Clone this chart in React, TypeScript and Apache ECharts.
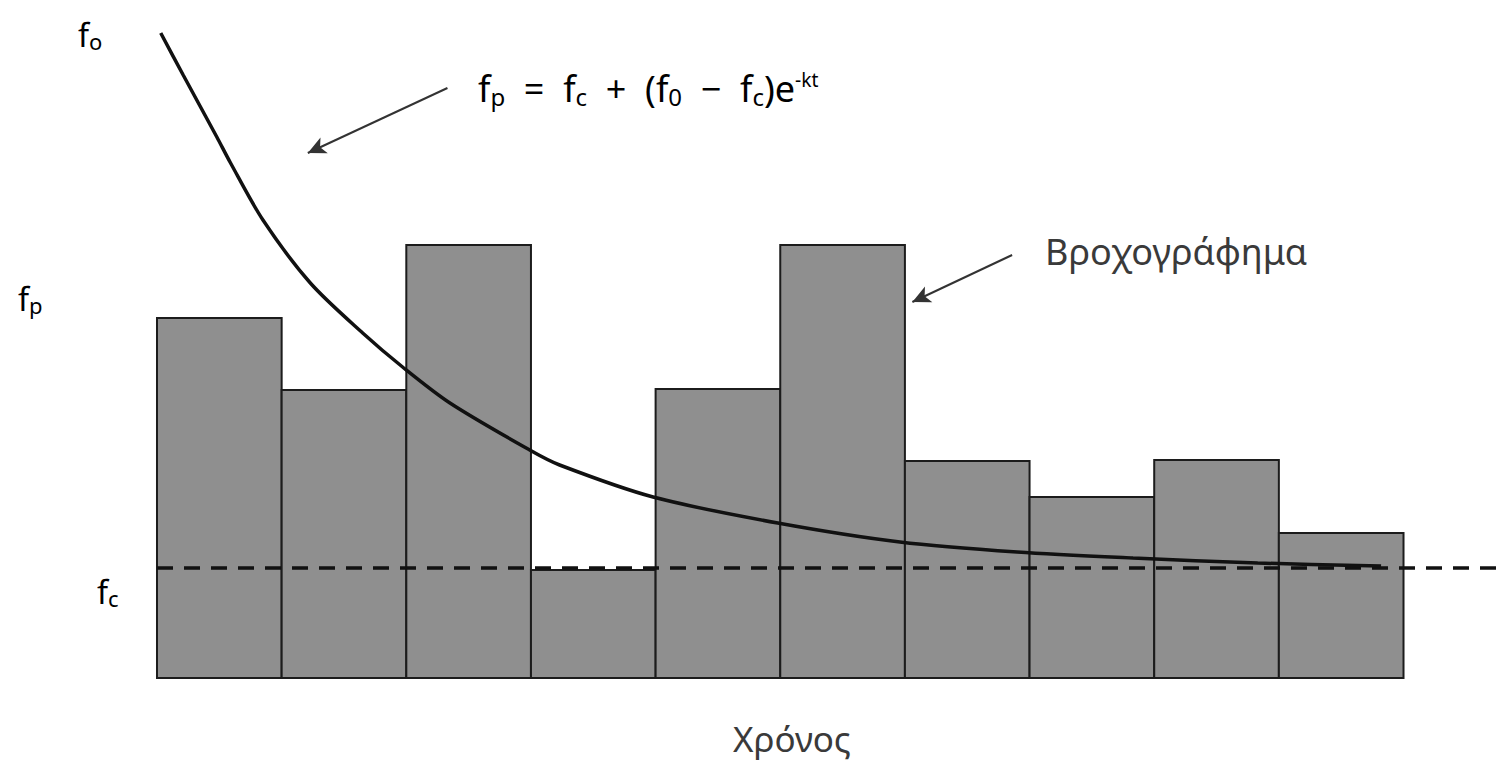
import React, { useEffect, useRef } from "react";
import * as echarts from "echarts";

// Bar heights (rainfall hyetograph), one per time interval
const barHeights = [36.0, 28.8, 43.3, 10.8, 28.9, 43.3, 21.7, 18.1, 21.8, 14.5];
// Infiltration curve fp(t), read point by point: [time, rate]
const curveT = [0.03, 0.21, 0.48, 0.59, 0.85, 1.23, 1.65, 1.97, 2.35, 2.99, 3.23, 3.98, 4.98, 5.96, 6.9, 7.83, 8.83, 9.82];
const curveF = [64.5, 60.3, 54.1, 51.5, 45.8, 39.5, 34.5, 31.1, 27.5, 22.8, 21.3, 18.1, 15.5, 13.6, 12.6, 12.0, 11.5, 11.2];
// Asymptotic rate fc (dashed)
const fcValue = 11.0;
const xMax = 10.75;
const yMax = 66.8;

export default function App() {
  const ref = useRef<HTMLDivElement>(null);
  useEffect(() => {
    if (!ref.current) return;
    const chart = echarts.init(ref.current, undefined, { renderer: "svg" });
    const font = "'Noto Sans', 'DejaVu Sans', sans-serif";
    const txtColor = "#3a3a3a";
    const subRich = (size: number, sub: number) => ({
      f: { fontSize: size, fontFamily: font, color: txtColor },
      s: { fontSize: sub, fontFamily: font, color: txtColor, padding: [Math.round(size * 0.45), 0, 0, 0] },
      u: { fontSize: sub * 0.8, fontFamily: font, color: txtColor, padding: [0, 0, Math.round(size * 0.5), 0] },
    });
    chart.setOption({
      animation: false,
      backgroundColor: "#ffffff",
      grid: { left: 157, right: 0, top: 10, bottom: 89 },
      xAxis: { type: "value", min: 0, max: xMax, show: false },
      yAxis: { type: "value", min: 0, max: yMax, show: false },
      series: [
        {
          type: "custom",
          data: barHeights.map((h, i) => [i, i + 1, h]),
          renderItem: (params: any, api: any) => {
            const a = api.coord([api.value(0), api.value(2)]);
            const b = api.coord([api.value(1), 0]);
            return {
              type: "rect",
              shape: { x: a[0], y: a[1], width: b[0] - a[0], height: b[1] - a[1] },
              style: { fill: "#8f8f8f", stroke: "#1c1c1c", lineWidth: 2 },
            };
          },
          z: 1,
        },
        {
          type: "line",
          data: [[0, fcValue], [xMax, fcValue]],
          symbol: "none",
          lineStyle: { color: "#111", width: 3.5, type: [16, 11] },
          z: 3,
        },
        {
          type: "line",
          data: curveT.map((t, i) => [t, curveF[i]]),
          smooth: 0.3,
          symbol: "none",
          lineStyle: { color: "#111", width: 3.5 },
          z: 4,
          markLine: {
            silent: true,
            symbol: ["none", "arrow"],
            symbolSize: [13, 18],
            lineStyle: { color: "#333", width: 2, type: "solid" },
            label: { show: false },
            data: [
              [{ coord: [2.33, 59.0] }, { coord: [1.21, 52.5] }],
              [{ coord: [6.86, 42.3] }, { coord: [6.06, 37.6] }],
            ],
          },
        },
      ],
      graphic: [
        { type: "text", left: 78, top: 18, style: { text: "{f|f}{s|o}", rich: subRich(32, 22) } },
        { type: "text", left: 18, top: 282, style: { text: "{f|f}{s|p}", rich: subRich(32, 22) } },
        { type: "text", left: 97, top: 575, style: { text: "{f|f}{s|c}", rich: subRich(32, 22) } },
        {
          type: "text",
          left: 478,
          top: 70,
          style: {
            text: "{f|f}{s|p}{f|  =  f}{s|c}{f|  +  (f}{s|0}{f|  −  f}{s|c}{f|)e}{u|-kt}",
            rich: subRich(36, 24),
          },
        },
        {
          type: "text",
          left: 1045,
          top: 233,
          style: { text: "Βροχογράφημα", fontSize: 36, fontFamily: font, fill: txtColor },
        },
        {
          type: "text",
          left: 733,
          top: 721,
          style: { text: "Χρόνος", fontSize: 35, fontFamily: font, fill: txtColor },
        },
      ],
    });
    return () => chart.dispose();
  }, []);
  return (
    <div
      ref={ref}
      style={{ position: "fixed", left: 0, top: 0, width: 1497, height: 767, background: "#fff" }}
    />
  );
}
